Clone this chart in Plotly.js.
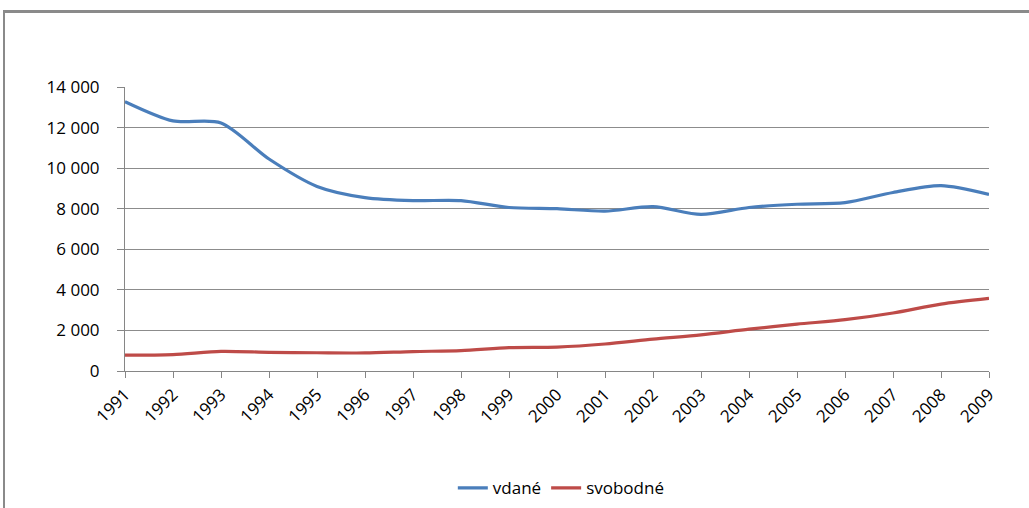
<!DOCTYPE html>
<html>
<head>
<meta charset="utf-8">
<script src="https://cdn.plot.ly/plotly-3.0.1.min.js"></script>
<style>
  html, body { margin:0; padding:0; background:#fff; }
  #wrap { position:relative; width:1029px; height:508px; overflow:hidden; }
  #chart { position:absolute; left:0; top:0; width:1029px; height:508px; }
  #frame { position:absolute; left:3px; top:10px; width:1100px; height:600px;
           border-top:3px solid #8a8a8a; border-left:2px solid #8a8a8a; pointer-events:none; }
</style>
</head>
<body>
<div id="wrap">
  <div id="chart"></div>
  <div id="frame"></div>
</div>
<script>
const years = [1991,1992,1993,1994,1995,1996,1997,1998,1999,2000,2001,2002,2003,2004,2005,2006,2007,2008,2009];
const vdane = [13280,12330,12230,10450,9100,8550,8400,8400,8060,8000,7880,8100,7720,8060,8220,8300,8800,9140,8700];
const svobodne = [780,810,970,920,900,890,960,1000,1150,1180,1330,1570,1780,2060,2310,2530,2860,3300,3580];
const seriesNames = ['vdané', 'svobodné'];

const font = {family: 'Open Sans, Noto Sans, sans-serif', size: 17, color: '#000'};

const traces = [
  {x: years, y: vdane, name: seriesNames[0], type: 'scatter', mode: 'lines',
   line: {color: '#4A7EBB', width: 3.2, shape: 'spline', smoothing: 0.8}},
  {x: years, y: svobodne, name: seriesNames[1], type: 'scatter', mode: 'lines',
   line: {color: '#BE4B48', width: 3.2, shape: 'spline', smoothing: 0.8}}
];

const layout = {
  width: 1029, height: 508,
  margin: {l: 125, r: 40, t: 87, b: 137, pad: 0, autoexpand: false},
  paper_bgcolor: '#fff', plot_bgcolor: '#fff',
  separators: ', ',
  font: font,
  showlegend: true,
  legend: {orientation: 'h', x: 0.505, xanchor: 'center', y: -0.413, yanchor: 'middle',
           font: font, itemwidth: 30, tracegroupgap: 0},
  xaxis: {
    range: [1991, 2009], tickmode: 'array', tickvals: years, ticktext: years.map(String),
    tickangle: -45, ticks: 'outside', ticklen: 6, tickcolor: '#868686', tickwidth: 1,
    showline: true, linecolor: '#868686', linewidth: 1, showgrid: false, zeroline: false,
    tickfont: font, fixedrange: true, automargin: false
  },
  yaxis: {
    range: [0, 14000], tickmode: 'linear', tick0: 0, dtick: 2000,
    separatethousands: true, tickformat: ',d',
    ticks: 'outside', ticklen: 7, tickcolor: '#868686', tickwidth: 1, ticklabelstandoff: 14,
    showline: true, linecolor: '#868686', linewidth: 1,
    showgrid: true, gridcolor: '#8c8c8c', gridwidth: 1, zeroline: false,
    tickfont: font, fixedrange: true, automargin: false
  }
};

Plotly.newPlot('chart', traces, layout, {displayModeBar: false, staticPlot: true});
</script>
</body>
</html>
